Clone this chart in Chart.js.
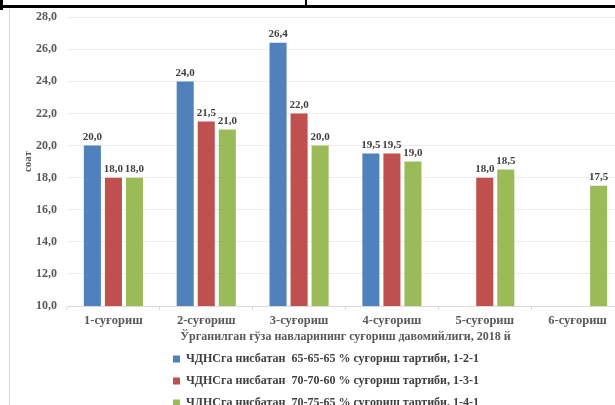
<!DOCTYPE html>
<html>
<head>
<meta charset="utf-8">
<script src="https://cdn.jsdelivr.net/npm/chart.js@4.4.1/dist/chart.umd.min.js"></script>
<style>
  html, body { margin: 0; padding: 0; background: #fff; }
  #wrap { position: relative; width: 615px; height: 405px; overflow: hidden; }
  #box { position: absolute; left: 0; top: 0; width: 640px; height: 419px; }
  .line { position: absolute; background: #000; }
  .gline { position: absolute; background: #d9d9d9; }
</style>
</head>
<body>
<div id="wrap">
  <div id="box"><canvas id="c" width="640" height="419"></canvas></div>
  <div class="line" style="left:0;top:5px;width:615px;height:3px;"></div>
  <div class="line" style="left:0;top:0;width:3px;height:10px;"></div>
  <div class="line" style="left:305px;top:0;width:2px;height:7px;"></div>
  <div class="gline" style="left:9px;top:9px;width:1px;height:396px;"></div>
</div>
<script>
const categories = ['1-суғориш', '2-суғориш', '3-суғориш', '4-суғориш', '5-суғориш', '6-суғориш'];
const seriesNames = [
  'ЧДНСга нисбатан  65-65-65 % суғориш тартиби, 1-2-1',
  'ЧДНСга нисбатан  70-70-60 % суғориш тартиби, 1-3-1',
  'ЧДНСга нисбатан  70-75-65 % суғориш тартиби, 1-4-1'
];
const series1 = [20.0, 24.0, 26.4, 19.5, null, null];
const series2 = [18.0, 21.5, 22.0, 19.5, 18.0, null];
const series3 = [18.0, 21.0, 20.0, 19.0, 18.5, 17.5];
const yTitle = 'соат';
const xTitle = 'Ўрганилган ғўза навларининг суғориш давомийлиги, 2018 й';
const yMin = 10, yMax = 28, yStep = 2;

const colors = ['#4F81BD', '#C0504D', '#9BBB59'];
const fontFam = '"Liberation Serif", "Times New Roman", serif';
const fmt = v => Number(v).toFixed(1).replace('.', ',');

const dataLabels = {
  id: 'dataLabels',
  afterDatasetsDraw(chart) {
    const ctx = chart.ctx;
    ctx.save();
    ctx.font = 'bold 11px ' + fontFam;
    ctx.fillStyle = '#404040';
    ctx.textAlign = 'center';
    ctx.textBaseline = 'bottom';
    chart.data.datasets.forEach((ds, i) => {
      const meta = chart.getDatasetMeta(i);
      meta.data.forEach((bar, j) => {
        const v = ds.data[j];
        if (v === null || v === undefined) return;
        ctx.fillText(fmt(v), bar.x, bar.y - 3);
      });
    });
    ctx.restore();
  }
};

new Chart(document.getElementById('c'), {
  type: 'bar',
  data: {
    labels: categories,
    datasets: [series1, series2, series3].map((d, i) => ({
      label: seriesNames[i],
      data: d,
      backgroundColor: colors[i],
      borderWidth: 0,
      categoryPercentage: 0.68,
      barPercentage: 0.81
    }))
  },
  options: {
    responsive: false,
    animation: false,
    layout: { padding: { left: 28, right: 16, top: 13, bottom: 0 } },
    plugins: {
      legend: {
        position: 'bottom',
        labels: {
          font: { family: fontFam, size: 12, weight: 'bold' },
          color: '#404040',
          boxWidth: 7,
          boxHeight: 7,
          padding: 10
        }
      },
      tooltip: { enabled: false }
    },
    scales: {
      x: {
        grid: { display: true, drawOnChartArea: false, offset: true, color: '#d9d9d9', tickLength: 4 },
        border: { color: '#d9d9d9' },
        ticks: { font: { family: fontFam, size: 12.5, weight: 'bold' }, color: '#595959', padding: 3 },
        title: { display: true, text: xTitle, font: { family: fontFam, size: 12, weight: 'bold', lineHeight: 1 }, color: '#595959', padding: { top: 0, bottom: 0 } }
      },
      y: {
        min: yMin, max: yMax,
        afterFit: s => { s.width = 39; },
        grid: { color: '#ececec', drawTicks: false },
        border: { display: false },
        ticks: { stepSize: yStep, callback: v => fmt(v), font: { family: fontFam, size: 12, weight: 'bold' }, color: '#595959', padding: 10 },
        title: { display: true, text: yTitle, font: { family: fontFam, size: 11, weight: 'bold' }, color: '#595959', padding: { top: -6, bottom: 0 } }
      }
    }
  },
  plugins: [dataLabels]
});
</script>
</body>
</html>
